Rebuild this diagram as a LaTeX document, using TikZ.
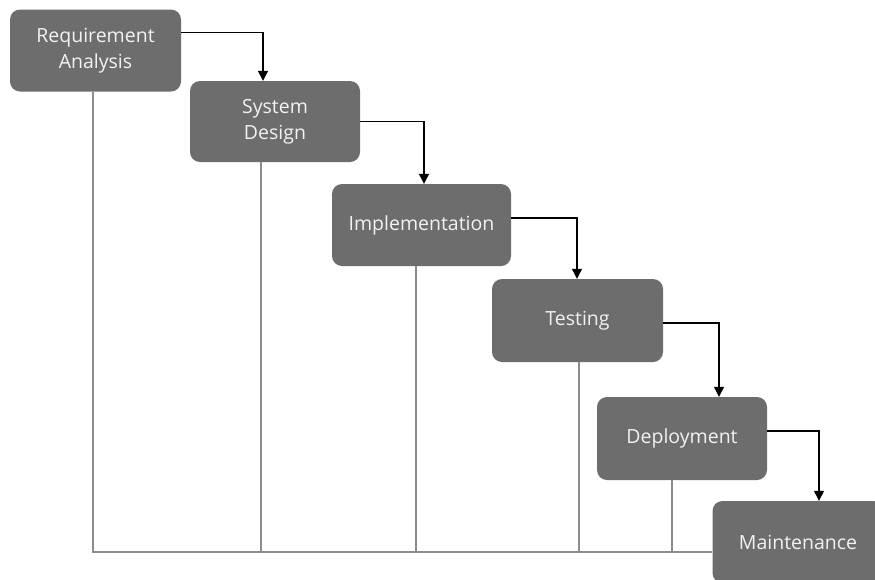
\documentclass[tikz,border=0pt]{standalone}
\usepackage{fontspec}
\setmainfont{Open Sans}
\usetikzlibrary{arrows.meta}
\definecolor{stagegray}{HTML}{6D6D6D}
\definecolor{railgray}{HTML}{8C8C8C}
\definecolor{stagetext}{HTML}{F2F2F2}
\tikzset{
	stage/.style={draw=none, fill=stagegray, rounded corners=10pt, minimum width=171pt, minimum height=82pt, inner sep=0pt, align=center, text=stagetext, font=\fontsize{19.5}{26}\selectfont},
	flow/.style={draw=black, line width=1.2pt, -{Triangle[width=10pt,length=10pt]}},
	rail/.style={draw=railgray, line width=2pt}
}

\begin{document}
\begin{tikzpicture}[x=1pt, y=-1pt]
			%%%%% START %%%%%
			\useasboundingbox[fill=white] (0, 0) rectangle (875, 579);
			\clip (0, 0) rectangle (875, 579);
			
			\coordinate (base) at (93, 552);
			
			\node[stage] (maint) at (798, 542) {Maintenance};
			
			\node[stage] (req) at (95.5, 50.5) {Requirement\\Analysis};
			\node[stage, minimum width=170pt, minimum height=81pt] (design) at (275, 121.5) {System\\Design};
			\node[stage, minimum width=179pt] (impl) at (421.5, 225) {Implementation};
			\node[stage, minimum height=83pt] (test) at (577.5, 320.5) {Testing};
			\node[stage, minimum width=170pt, minimum height=83pt] (deploy) at (682, 438.5) {Deployment};
			
			% the rails to the bottom
			\draw[rail] ([xshift=-2.5pt]req.south) -- ([xshift=-2.5pt]req.south |- base) -- (maint.west |- base);
			\draw[rail] ([xshift=-14pt]design.south) -- ([xshift=-14pt]design.south |- base);
			\draw[rail] ([xshift=-5.5pt]impl.south) -- ([xshift=-5.5pt]impl.south |- base);
			\draw[rail] ([xshift=1.5pt]test.south) -- ([xshift=1.5pt]test.south |- base);
			\draw[rail] ([xshift=-10pt]deploy.south) -- ([xshift=-10pt]deploy.south |- base);
			
			% the falling arrows
			\draw[flow] ([yshift=18pt]req.east) -| ([xshift=-12pt]design.north);
			\draw[flow] (design.east) -| ([xshift=2.5pt]impl.north);
			\draw[flow] ([yshift=7pt]impl.east) -| ([xshift=-0.5pt]test.north);
			\draw[flow] ([yshift=-2.5pt]test.east) -| ([xshift=37pt]deploy.north);
			\draw[flow] ([yshift=7.5pt]deploy.east) -| ([xshift=21pt]maint.north);
			
			%%%%% END %%%%%
\end{tikzpicture}
\end{document}
